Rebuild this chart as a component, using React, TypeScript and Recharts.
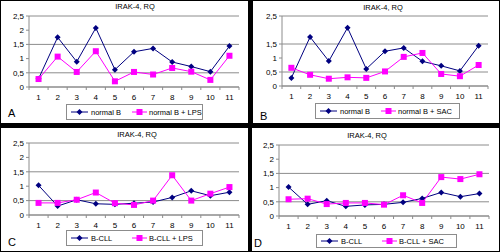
import React from 'react';
import { LineChart, Line, XAxis, YAxis, CartesianGrid } from 'recharts';

const categories = ['1', '2', '3', '4', '5', '6', '7', '8', '9', '10', '11'];
const yTicks = [0, 0.5, 1, 1.5, 2, 2.5];
const xTicks = [0.5, 1, 1.5, 2, 2.5, 3, 3.5, 4, 4.5, 5, 5.5, 6, 6.5, 7, 7.5, 8, 8.5, 9, 9.5, 10, 10.5, 11, 11.5];

const normalB = [0.29, 1.75, 0.89, 2.08, 0.61, 1.24, 1.36, 0.88, 0.72, 0.54, 1.44];
const normalBLps = [0.28, 1.07, 0.53, 1.26, 0.2, 0.53, 0.44, 0.67, 0.54, 0.25, 1.1];
const normalBSac = [0.65, 0.4, 0.26, 0.31, 0.29, 0.52, 1.04, 1.18, 0.43, 0.35, 0.75];
const bCll = [1.03, 0.31, 0.53, 0.39, 0.37, 0.41, 0.45, 0.61, 0.84, 0.67, 0.79];
const bCllLps = [0.42, 0.42, 0.53, 0.78, 0.41, 0.35, 0.5, 1.38, 0.5, 0.74, 0.97];
const bCllD = [1.02, 0.41, 0.54, 0.34, 0.39, 0.41, 0.48, 0.62, 0.83, 0.68, 0.79];
const bCllSac = [0.59, 0.61, 0.42, 0.46, 0.46, 0.4, 0.73, 0.46, 1.37, 1.3, 1.47];

const NAVY = '#000080';
const MAGENTA = '#ff00ff';
const GRID = '#8c8c8c';
const FONT = '"Liberation Sans", Arial, sans-serif';

const Diamond = (props: any) => {
  const { cx, cy } = props;
  if (cx == null || cy == null) return null;
  return <path d={`M${cx},${cy - 3}L${cx + 3},${cy}L${cx},${cy + 3}L${cx - 3},${cy}Z`} fill={NAVY} />;
};

const Square = (props: any) => {
  const { cx, cy } = props;
  if (cx == null || cy == null) return null;
  return <rect x={cx - 3} y={cy - 3} width={6} height={6} fill={MAGENTA} />;
};

const XTick = (props: any) => {
  const { x, y, payload } = props;
  const v = payload.value;
  if (v % 1 !== 0) {
    return <line x1={x} x2={x} y1={y} y2={y + 3} stroke={GRID} />;
  }
  return (
    <text x={x} y={y + 13} textAnchor="middle" fontSize={8} fill="#000" fontFamily={FONT}>
      {categories[v - 1]}
    </text>
  );
};

interface PanelProps {
  box: { x: number; y: number; w: number; h: number };
  plot: { left: number; right: number; top: number; bottom: number };
  a: number[];
  b: number[];
  nameA: string;
  nameB: string;
  letter: string;
  letterPos: { x: number; y: number };
  titlePos: { x: number; y: number };
  legend: { x: number; y: number; w: number; h: number };
}

function Panel({ box, plot, a, b, nameA, nameB, letter, letterPos, titlePos, legend }: PanelProps) {
  const data = categories.map((c, i) => ({ x: i + 1, a: a[i], b: b[i] }));
  return (
    <div style={{ position: 'absolute', left: box.x, top: box.y, width: box.w, height: box.h, background: '#fff', fontFamily: FONT }}>
      <LineChart
        width={box.w}
        height={box.h}
        data={data}
        margin={{ top: plot.top, right: box.w - plot.right, bottom: 0, left: 0 }}
      >
        <CartesianGrid vertical={false} stroke={GRID} />
        <XAxis
          dataKey="x"
          type="number"
          domain={[0.5, 11.5]}
          ticks={xTicks}
          interval={0}
          height={box.h - plot.bottom}
          tickLine={false}
          tickSize={0}
          tickMargin={0}
          axisLine={{ stroke: GRID }}
          tick={<XTick />}
        />
        <YAxis
          domain={[0, 2.5]}
          ticks={yTicks}
          width={plot.left}
          tickSize={3}
          tickMargin={2}
          axisLine={{ stroke: GRID }}
          tickLine={{ stroke: GRID }}
          tick={{ fontSize: 8, fill: '#000', fontFamily: FONT }}
          tickFormatter={(v: number) => String(v).replace('.', ',')}
        />
        <YAxis
          yAxisId="r"
          orientation="right"
          domain={[0, 2.5]}
          width={0}
          tick={false}
          tickLine={false}
          axisLine={{ stroke: GRID }}
        />
        <Line dataKey="a" stroke={NAVY} strokeWidth={1} dot={<Diamond />} isAnimationActive={false} />
        <Line dataKey="b" stroke={MAGENTA} strokeWidth={1} dot={<Square />} isAnimationActive={false} />
      </LineChart>
      <div style={{ position: 'absolute', left: titlePos.x - 40, top: titlePos.y - 5, width: 80, textAlign: 'center', fontSize: 7.5, lineHeight: '10px' }}>
        IRAK-4, RQ
      </div>
      <div style={{ position: 'absolute', left: letterPos.x, top: letterPos.y - 7, fontSize: 11, lineHeight: '14px' }}>{letter}</div>
      <div
        style={{
          position: 'absolute',
          left: legend.x,
          top: legend.y,
          width: legend.w,
          height: legend.h,
          boxSizing: 'border-box',
          border: `1px solid ${GRID}`,
          display: 'flex',
          alignItems: 'center',
          fontSize: 7.5,
          paddingLeft: 4,
          whiteSpace: 'nowrap',
        }}
      >
        <svg width={17} height={8} style={{ marginRight: 3, flexShrink: 0 }}>
          <line x1={0} x2={17} y1={4} y2={4} stroke={NAVY} />
          <path d="M8.5,1L11.5,4L8.5,7L5.5,4Z" fill={NAVY} />
        </svg>
        <span style={{ width: 41, flexShrink: 0 }}>{nameA}</span>
        <svg width={15} height={8} style={{ marginRight: 2, flexShrink: 0 }}>
          <line x1={0} x2={15} y1={4} y2={4} stroke={MAGENTA} />
          <rect x={4.5} y={1} width={6} height={6} fill={MAGENTA} />
        </svg>
        <span style={{ flexShrink: 0 }}>{nameB}</span>
      </div>
    </div>
  );
}

export default function App() {
  return (
    <div style={{ position: 'absolute', left: 0, top: 0, width: 500, height: 252, background: '#000' }}>
      <Panel
        box={{ x: 1, y: 1, w: 247, h: 122 }}
        plot={{ left: 28, right: 238, top: 15, bottom: 86 }}
        a={normalB}
        b={normalBLps}
        nameA="normal B"
        nameB="normal B + LPS"
        letter="A"
        letterPos={{ x: 7, y: 112 }}
        titlePos={{ x: 134, y: 6 }}
        legend={{ x: 65, y: 103, w: 137, h: 16 }}
      />
      <Panel
        box={{ x: 253, y: 1, w: 246, h: 122 }}
        plot={{ left: 29, right: 235, top: 15, bottom: 85 }}
        a={normalB}
        b={normalBSac}
        nameA="normal B"
        nameB="normal B + SAC"
        letter="B"
        letterPos={{ x: 7, y: 115 }}
        titlePos={{ x: 130, y: 7 }}
        legend={{ x: 62, y: 102, w: 145, h: 16 }}
      />
      <Panel
        box={{ x: 1, y: 128, w: 247, h: 123 }}
        plot={{ left: 28, right: 238, top: 15, bottom: 87 }}
        a={bCll}
        b={bCllLps}
        nameA="B-CLL"
        nameB="B-CLL + LPS"
        letter="C"
        letterPos={{ x: 7, y: 114 }}
        titlePos={{ x: 136, y: 7 }}
        legend={{ x: 65, y: 102, w: 137, h: 16 }}
      />
      <Panel
        box={{ x: 252, y: 128, w: 247, h: 123 }}
        plot={{ left: 27, right: 237, top: 17, bottom: 88 }}
        a={bCllD}
        b={bCllSac}
        nameA="B-CLL"
        nameB="B-CLL + SAC"
        letter="D"
        letterPos={{ x: 2, y: 115 }}
        titlePos={{ x: 115, y: 8 }}
        legend={{ x: 64, y: 106, w: 141, h: 14 }}
      />
    </div>
  );
}
